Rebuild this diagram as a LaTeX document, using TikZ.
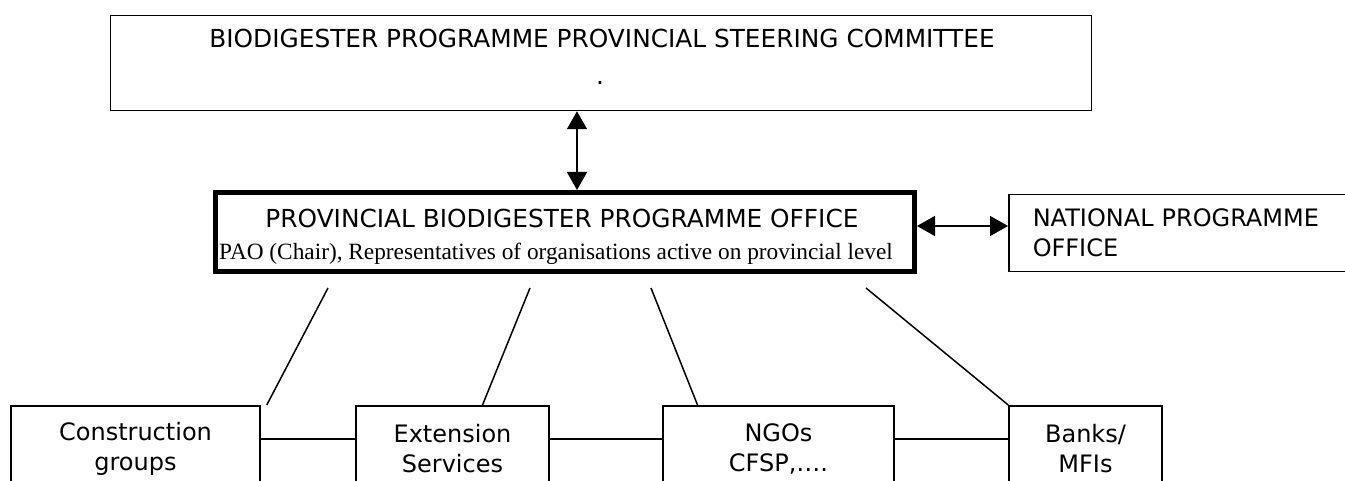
\documentclass[tikz,border=0pt]{standalone}
\usepackage{fontspec}
\setmainfont{DejaVu Sans}
\newfontfamily\timesfont{Liberation Serif}
\usetikzlibrary{arrows.meta, positioning}

\begin{document}
\begin{tikzpicture}[
    x=1pt, y=-1pt,
    box/.style={rectangle, draw, line width=1.5pt, inner sep=0pt, align=center, font=\fontsize{24}{29.5}\selectfont},
    office/.style={box, line width=5pt},
    label/.style={inner sep=0pt, anchor=base, font=\fontsize{24.8}{29}\selectfont},
    link/.style={line width=1.5pt},
    arrow/.style={line width=1.5pt, {Triangle[length=18pt,width=20pt]}-{Triangle[length=18pt,width=20pt]}}
]
\useasboundingbox (0,0) rectangle (1345,481);
\clip (0,0) rectangle (1345,481);

% Nodes
\node[box, minimum width=981pt, minimum height=95pt] (steering) at (601,63) {};
\node[label] (steertitle) at (602,48) {BIODIGESTER PROGRAMME PROVINCIAL STEERING COMMITTEE};
\node[label] (steerdot) at (600,85) {.};

\node[office, minimum width=699pt, minimum height=79pt] (office) at (565,232) {};
\node[label] (officetitle) at (562,228) {PROVINCIAL BIODIGESTER PROGRAMME OFFICE};
\node[label, font=\timesfont\fontsize{23.3}{26}\selectfont] (officemembers) at (556,260) {PAO (Chair), Representatives of organisations active on provincial level};

\node[box, anchor=west, minimum width=420pt, minimum height=77pt, text width=372pt, align=left] (national) at (1008,233) {NATIONAL PROGRAMME\\OFFICE};

\node[box, anchor=north, minimum width=249pt, minimum height=86pt] (builders) at (135.5,405) {Construction\\groups};
\node[box, anchor=north, minimum width=193pt, minimum height=86pt] (extension) at (452.5,405) {Extension\\Services};
\node[box, anchor=north, minimum width=231pt, minimum height=86pt] (ngos) at (778.5,405) {NGOs\\CFSP,\dots.};
\node[box, anchor=north, minimum width=153pt, minimum height=86pt] (banks) at (1085.5,405) {Banks/\\MFIs};

\coordinate (spoke1) at (328,288);
\coordinate (spoke2) at (530,288);
\coordinate (spoke3) at (651,288);
\coordinate (spoke4) at (866,288);

% Arrows
\draw[arrow] ([xshift=-24pt]steering.south) -- ([xshift=12pt]office.north);
\draw[arrow] ([yshift=6pt]office.east) -- ([yshift=7pt]national.west);

% Links
\draw[link] (spoke1) -- ([xshift=6pt]builders.north east);
\draw[link] (spoke2) -- ([xshift=30pt]extension.north);
\draw[link] (spoke3) -- ([xshift=-81pt]ngos.north);
\draw[link] (spoke4) -- (banks.north west);
\draw[link] ([yshift=10pt]builders.east) -- ([yshift=10pt]extension.west);
\draw[link] ([yshift=10pt]extension.east) -- ([yshift=10pt]ngos.west);
\draw[link] ([yshift=10pt]ngos.east) -- ([yshift=10pt]banks.west);

\end{tikzpicture}
\end{document}
